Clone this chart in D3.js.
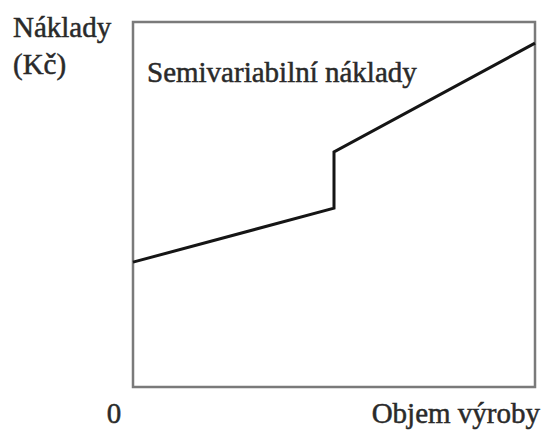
<!DOCTYPE html>
<html>
<head>
<meta charset="utf-8">
<script src="https://cdn.jsdelivr.net/npm/d3@7"></script>
<style>
  html, body { margin: 0; padding: 0; background: #fff; }
  svg text { font-family: "Liberation Serif", "Times New Roman", Times, serif; fill: #2a2a2a; stroke: #2a2a2a; stroke-width: 0.5px; }
</style>
</head>
<body>
<svg id="chart" width="544" height="432"></svg>
<script>
// Data
const volume = [0, 50, 50, 100];          // objem výroby (relative)
const cost   = [34.2, 49.0, 64.4, 94.2];  // náklady (relative)
const xDomain = [0, 100];
const yDomain = [0, 100];
const yTitleLines = ["Náklady", "(Kč)"];
const xTitle = "Objem výroby";
const originLabel = "0";
const seriesLabel = "Semivariabilní náklady";

const svg = d3.select("#chart");
const x = d3.scaleLinear().domain(xDomain).range([133, 535]);
const y = d3.scaleLinear().domain(yDomain).range([387, 22]);

// frame
svg.append("rect")
  .attr("x", x(xDomain[0])).attr("y", y(yDomain[1]))
  .attr("width", x(xDomain[1]) - x(xDomain[0]))
  .attr("height", y(yDomain[0]) - y(yDomain[1]))
  .attr("fill", "none").attr("stroke", "#7a7a7a").attr("stroke-width", 2.5);

// line
const pts = volume.map((v, i) => [v, cost[i]]);
svg.append("path")
  .datum(pts)
  .attr("d", d3.line().x(d => x(d[0])).y(d => y(d[1])))
  .attr("fill", "none").attr("stroke", "#151515").attr("stroke-width", 3)
  .attr("stroke-linejoin", "miter");

// texts
svg.selectAll("text.ytitle").data(yTitleLines).enter().append("text")
  .attr("class", "ytitle")
  .attr("x", 13).attr("y", (d, i) => 37 + i * 37)
  .attr("font-size", 29).text(d => d);

svg.append("text").attr("x", 147).attr("y", 82)
  .attr("font-size", 29).text(seriesLabel);

svg.append("text").attr("x", 114).attr("y", 423)
  .attr("text-anchor", "middle").attr("font-size", 29).text(originLabel);

svg.append("text").attr("x", 540).attr("y", 423)
  .attr("text-anchor", "end").attr("font-size", 29).text(xTitle);
</script>
</body>
</html>
